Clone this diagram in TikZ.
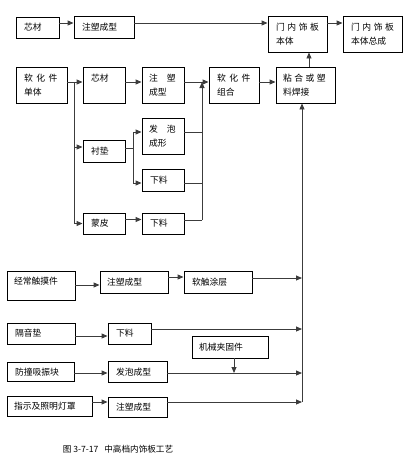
\documentclass[tikz,border=0pt]{standalone}
\usepackage{fontspec}
\setmainfont{Noto Sans CJK SC}
\usetikzlibrary{arrows.meta,calc}
\definecolor{lncol}{RGB}{60,60,60}
\newcommand\ks{\kern2.6pt}
\begin{document}
\begin{tikzpicture}[x=1pt,y=-1pt,
  every node/.style={font=\fontsize{8.8}{14}\selectfont},
  bx/.style n args={3}{draw=black,line width=0.9pt,minimum height=#3,text width=#2,inner xsep=#1,inner ysep=0pt,align=left,anchor=center},
  ln/.style={draw=lncol,line width=0.9pt},
  arr/.style={ln,-{Triangle[length=6pt,width=5pt]}}]
\useasboundingbox (0,0) rectangle (410,458);
% top row
\node[bx={8pt}{27pt}{21pt}] (a1) at (37.5,27.5) {芯材};
\node[bx={8pt}{44pt}{22pt}] (a2) at (104,27) {注塑成型};
\node[bx={8pt}{43pt}{36pt}] (m1) at (297.5,34) {门\ks 内\ks 饰\ks 板\\本体};
\node[bx={8pt}{43pt}{36pt}] (m2) at (372.5,34) {门\ks 内\ks 饰\ks 板\\本体总成};
% second row
\node[bx={8pt}{35pt}{36pt}] (b1) at (41.5,85) {软\kern3.5pt 化\kern3.5pt 件\\单体};
\node[bx={8pt}{26pt}{36pt}] (b2) at (104,85) {芯材\\\mbox{}};
\node[bx={7pt}{28pt}{36pt}] (b3) at (163,85) {注\kern9pt 塑\\成型};
\node[bx={8pt}{34pt}{36pt}] (b4) at (234,85) {软\kern3.5pt 化\kern3.5pt 件\\组合};
\node[bx={7pt}{45pt}{36pt}] (b5) at (305.5,85) {粘\kern2.5pt 合\kern2.5pt 或\kern2.5pt 塑\\料焊接};
\node[bx={8pt}{26pt}{22pt}] (c1) at (104,151) {衬垫};
\node[bx={7pt}{28pt}{36pt}] (c2) at (163,136) {发\kern9pt 泡\\成形};
\node[bx={8pt}{26pt}{22pt}] (c3) at (163,180) {下料};
\node[bx={8pt}{26pt}{21pt}] (d1) at (104,223.5) {蒙皮};
\node[bx={8pt}{26pt}{21pt}] (d2) at (163,223.5) {下料};
% lower part
\node[bx={7pt}{54pt}{29pt}] (e1) at (41,285.5) {经常触摸件\\[-5pt]\mbox{}};
\node[bx={7pt}{54pt}{22pt}] (e2) at (134,282) {注塑成型};
\node[bx={8pt}{52pt}{22pt}] (e3) at (218,282) {软触涂层};
\node[bx={8pt}{52pt}{21pt}] (f1) at (41,333.5) {隔音垫};
\node[bx={8pt}{27pt}{21pt}] (f2) at (129.5,333.5) {下料};
\node[bx={7pt}{62pt}{22pt}] (g) at (230,347) {机械夹固件};
\node[bx={8pt}{51pt}{19pt}] (h1) at (40.5,372) {防撞吸振块};
\node[bx={8pt}{43pt}{21pt}] (h2) at (137.5,372) {发泡成型};
\node[bx={7pt}{71pt}{20pt}] (i1) at (49.5,406.5) {指示及照明灯罩};
\node[bx={8pt}{43pt}{20pt}] (i2) at (137.5,407) {注塑成型};
\node[font=\fontsize{8.6}{10}\selectfont] (cap) at (118,449) {图 3-7-17\kern6pt 中高档内饰板工艺};
% helper coordinates
\coordinate (r1) at (0,23);
\coordinate (r2) at (0,82);
\coordinate (jA) at (74,82);
\coordinate (jB) at (133,148);
\coordinate (jC) at (202,82);
\coordinate (mx) at (302,402);
% top row connectors
\draw[arr] (a1.east |- r1) -- (a2.west |- r1);
\draw[arr] (a2.east |- r1) -- (m1.west |- r1);
\draw[arr] (m1.east |- r1) -- (m2.west |- r1);
% second row
\draw[arr] (b1.east |- r2) -- (b2.west |- r2);
\draw[arr] (b2.east |- r2) -- (b3.west |- r2);
\draw[arr] (b3.east |- r2) -- (b4.west |- r2);
\draw[arr] (b4.east |- r2) -- (b5.west |- r2);
\draw[arr] (b5.north -| 309,0) -- (m1.south -| 309,0);
% branch to 衬垫 / 蒙皮
\draw[ln] (jA) -- (jA |- d1.west);
\draw[arr] (jA |- 0,147) -- (c1.west |- 0,147);
\draw[arr] (jA |- d1.west) -- (d1.west);
\draw[ln] (c1.east |- jB) -- (jB);
\draw[ln] (jB |- 0,132) -- (jB |- 0,183);
\draw[arr] (jB |- 0,132) -- (c2.west |- 0,132);
\draw[arr] (jB |- 0,183) -- (c3.west |- 0,183);
\draw[arr] (d1.east |- 0,219.5) -- (d2.west |- 0,219.5);
% merge to 软化件组合
\draw[ln] (c2.east |- 0,132) -- (jC |- 0,132);
\draw[ln] (c3.east |- 0,183) -- (jC |- 0,183);
\draw[ln] (d2.east |- 0,220) -- (jC |- 0,220);
\draw[arr] (jC |- 0,220) -- (jC);
% main vertical
\draw[arr] (mx) -- (mx |- b5.south);
\draw[arr] (e1.east |- 0,285) -- (e2.west |- 0,285);
\draw[arr] (e2.east |- 0,277) -- (e3.west |- 0,277);
\draw[arr] (e3.east |- 0,278) -- (mx |- 0,278);
\draw[arr] (f1.east |- 0,336) -- (f2.west |- 0,336);
\draw[arr] (f2.east |- 0,329) -- (mx |- 0,329);
\draw[arr] (h1.east |- 0,373) -- (h2.west |- 0,373);
\draw[arr] (h2.east |- 0,373) -- (mx |- 0,373);
\draw[arr] (g.south -| 234,0) -- (234,373);
\draw[arr] (i1.east |- 0,402) -- (i2.west |- 0,402);
\draw[arr] (i2.east |- 0,402) -- (mx);
\end{tikzpicture}
\end{document}
